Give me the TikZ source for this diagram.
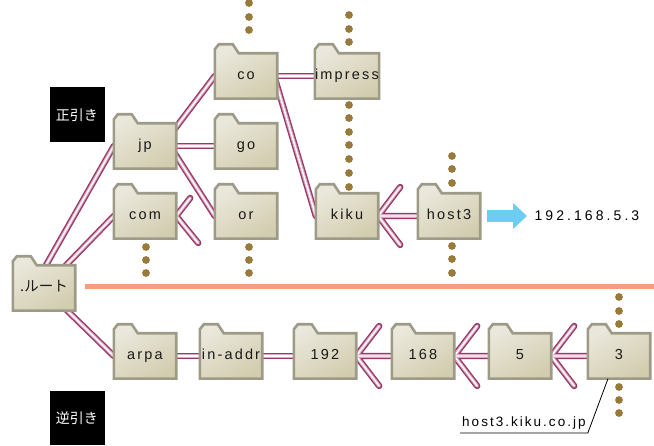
\documentclass[tikz,border=0pt]{standalone}
\usepackage{fontspec}
\setmainfont{Liberation Sans}
\newfontfamily\jpfont{Noto Sans CJK JP}
\newfontfamily\spaced[LetterSpace=15]{Liberation Sans}
\newfontfamily\widespaced[LetterSpace=22]{Liberation Sans}
\usetikzlibrary{arrows.meta}

\definecolor{foldertop}{RGB}{234,232,220}
\definecolor{folderbot}{RGB}{211,205,176}
\definecolor{folderedge}{RGB}{157,155,135}
\definecolor{pipedark}{RGB}{150,58,104}
\definecolor{pipemid}{RGB}{222,168,196}
\definecolor{dotbrown}{RGB}{152,122,58}
\definecolor{divider}{RGB}{244,158,128}
\definecolor{arrowblue}{RGB}{108,204,242}

\pgfdeclarelayer{pipes}
\pgfdeclarelayer{folders}
\pgfsetlayers{pipes,folders,main}

\tikzset{
  folder/.style={minimum width=62pt,minimum height=45pt,inner sep=0pt,text height=10pt,text depth=3pt,
    font=\spaced\fontsize{14.5}{16}\selectfont,text=black!90},
  folderline/.style={draw=folderedge,line width=2.6pt,line join=miter,top color=foldertop,bottom color=folderbot,shading angle=30},
  pipe/.style={draw=pipedark,line width=6.4pt,line cap=round,
    postaction={draw=pipemid,line width=3.6pt},postaction={draw=white,line width=1.4pt}},
  tagbox/.style={fill=black,text=white,minimum width=55pt,minimum height=55pt,inner sep=0pt,
    font=\jpfont\fontsize{14}{16}\selectfont},
}

\begin{document}
\begin{tikzpicture}[x=1pt,y=1pt]
\useasboundingbox (0,0) rectangle (654,445);

% forward tree
\node[folder] (root) at (44,157) {\jpfont .ルート};
\node[folder] (jp) at (145,299) {jp};
\node[folder] (com) at (145,229) {com};
\node[folder] (co) at (246,369) {co};
\node[folder] (go) at (246,299) {go};
\node[folder] (or) at (246,229) {or};
\node[folder] (impress) at (347,369) {impress};
\node[folder] (kiku) at (347,229) {kiku};
\node[folder] (host3) at (449,229) {host3};
% reverse tree
\node[folder] (arpa) at (145,89) {arpa};
\node[folder] (inaddr) at (231,89) {in-addr};
\node[folder] (n192) at (325,89) {192};
\node[folder] (n168) at (423,89) {168};
\node[folder] (n5) at (520,89) {5};
\node[folder] (n3) at (619,89) {3};

\node[tagbox] (fwd) at (77,330) {正引き};
\node[tagbox,minimum height=54pt] (rev) at (77,27) {逆引き};

\node[anchor=west,font=\widespaced\fontsize{14}{16}\selectfont] (ip) at (531,229) {192.168.5.3};
\node[anchor=south west,inner xsep=2pt,inner ysep=3pt,font=\spaced\fontsize{13.5}{15}\selectfont] (hostname) at (460,12) {host3.kiku.co.jp};

\begin{pgfonlayer}{folders}
\foreach \n in {root,jp,com,co,go,or,impress,kiku,host3,arpa,inaddr,n192,n168,n5,n3}
  \draw[folderline] (\n.south west) -- ([yshift=4pt]\n.north west) -- ([shift={(4pt,9pt)}]\n.north west)
    -- ([shift={(18pt,9pt)}]\n.north west) -- ([xshift=24pt]\n.north west) -- (\n.north east) -- (\n.south east) -- cycle;
\end{pgfonlayer}

\begin{pgfonlayer}{pipes}
\draw[pipe] ([xshift=-11pt]root.center) -- (jp.west);
\draw[pipe] (root.center) -- (com.west);
\draw[pipe] (root.center) -- (arpa.west);
\draw[pipe] ([shift={(10pt,-9pt)}]jp.center) -- (co.west);
\draw[pipe] (jp.east) -- (go.west);
\draw[pipe] ([shift={(18pt,11pt)}]jp.center) -- (or.west);
\draw[pipe] (co.east) -- (impress.west);
\draw[pipe] ([xshift=-8pt,yshift=-6pt]co.north east) -- (kiku.west);
\draw[pipe] (com.east) -- ++(14,18) (com.east) -- ++(22,-27);
\draw[pipe] (host3.west) -- (kiku.east) -- ++(22,29) (kiku.east) -- ++(22,-29);
\draw[pipe] (arpa.east) -- (inaddr.west);
\draw[pipe] (inaddr.east) -- (n192.west);
\foreach \a/\b in {n192/n168,n168/n5,n5/n3}
  \draw[pipe] (\b.west) -- (\a.east) -- ++(23,30) (\a.east) -- ++(23,-30);
\end{pgfonlayer}

\draw[divider,line width=5pt] (85,158) -- (654,158);

% continuation dots
\foreach \x/\y in {249/442,249/428,249/415, 349/430,349/416,349/403,
    349/340,349/327,349/313,349/300,349/286,349/272,349/258,
    452/289,452/276,452/262, 452/199,452/186,452/172,
    146/198,146/185,146/172, 249/198,249/185,249/172,
    619/148,619/134,619/121, 619/58,619/45,619/32}
  \fill[dotbrown] (\x,\y) circle (3.9pt);

\draw[arrowblue,line width=12pt,-{Triangle[length=14pt,width=26pt,line width=0pt]}] ([xshift=7pt]host3.east) -- ([xshift=-4pt]ip.west);
\draw[line width=0.8pt] (hostname.south west) -- (hostname.south east) -- ([xshift=-11pt]n3.south);
\end{tikzpicture}
\end{document}
